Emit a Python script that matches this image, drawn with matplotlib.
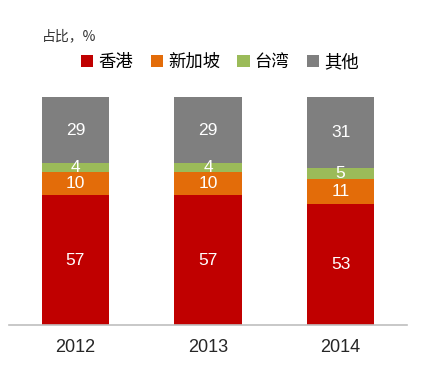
import matplotlib
matplotlib.use("Agg")
import matplotlib.pyplot as plt
from matplotlib.patches import Patch

plt.rcParams['font.family'] = ['Noto Sans CJK SC', 'DejaVu Sans']

years = ["2012", "2013", "2014"]
series_names = ["香港", "新加坡", "台湾", "其他"]
hongkong = [57, 57, 53]
singapore = [10, 10, 11]
taiwan = [4, 4, 5]
others = [29, 29, 31]
colors = ["#C00000", "#E36C09", "#9BBB59", "#7F7F7F"]

fig = plt.figure(figsize=(4.28, 3.78), dpi=100)
ax = fig.add_axes([9/428, 1-325/378, 398/428, 228/378])

x = range(len(years))
bottom = [0, 0, 0]
for vals, col in zip([hongkong, singapore, taiwan, others], colors):
    bars = ax.bar(x, vals, width=0.51, bottom=bottom, color=col)
    for xi, v, b in zip(x, vals, bottom):
        ax.text(xi, b + v/2, str(v), ha='center', va='center', color='white',
                fontsize=12.5, family='Liberation Sans')
    bottom = [b + v for b, v in zip(bottom, vals)]

ax.set_xlim(-0.5, 2.5)
ax.set_ylim(0, 100)
ax.set_xticks(list(x))
ax.set_xticklabels(years, fontsize=13, family='Liberation Sans', color='#262626')
ax.tick_params(axis='x', length=0, pad=10)
ax.set_yticks([])
for s in ['top', 'right', 'left']:
    ax.spines[s].set_visible(False)
ax.spines['bottom'].set_color('#BFBFBF')
ax.spines['bottom'].set_linewidth(1.2)

fig.text(42/428, 1-36/378, "占比，%", fontsize=10, va='center', ha='left', color='#333333')

handles = [Patch(facecolor=c, edgecolor='none') for c in colors]
fig.legend(handles, series_names, loc='center', bbox_to_anchor=(220/428, 1-62/378),
           ncol=4, frameon=False, fontsize=12.5, handlelength=0.7, handleheight=0.7,
           handletextpad=0.3, columnspacing=1.0)

fig.savefig("out.png", dpi=100)
